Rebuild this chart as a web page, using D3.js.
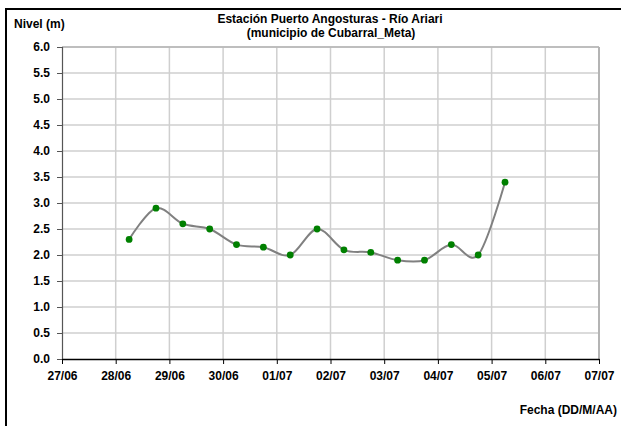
<!DOCTYPE html>
<html><head><meta charset="utf-8">
<script src="https://cdn.jsdelivr.net/npm/d3@7"></script>
<style>body{margin:0;background:#fff}svg{display:block}text{font-family:"Liberation Sans",Arial,sans-serif;font-weight:bold;fill:#000}</style>
</head><body><svg id="c" width="621" height="426"></svg>
<script>
const dates = ["2020-06-28T06:00","2020-06-28T18:00","2020-06-29T06:00","2020-06-29T18:00","2020-06-30T06:00","2020-06-30T18:00","2020-07-01T06:00","2020-07-01T18:00","2020-07-02T06:00","2020-07-02T18:00","2020-07-03T06:00","2020-07-03T18:00","2020-07-04T06:00","2020-07-04T18:00","2020-07-05T06:00"];
const levels = [2.3,2.9,2.6,2.5,2.2,2.15,2.0,2.5,2.1,2.05,1.9,1.9,2.2,2.0,3.4];
const yTicks = [0,0.5,1,1.5,2,2.5,3,3.5,4,4.5,5,5.5,6];
const xTickLabels = ["27/06","28/06","29/06","30/06","01/07","02/07","03/07","04/07","05/07","06/07","07/07"];
const titleLines = ["Estación Puerto Angosturas - Río Ariari","(municipio de Cubarral_Meta)"];

const svg = d3.select("#c");
const parse = d3.utcParse("%Y-%m-%dT%H:%M");
const tickDates = xTickLabels.map((l,i)=>d3.utcDay.offset(new Date(Date.UTC(2020,5,27)), i));
const x = d3.scaleUtc().domain([tickDates[0], tickDates[tickDates.length-1]]).range([62,599]);
const y = d3.scaleLinear().domain([0,6]).range([359,47]);
const FONT = "Liberation Sans, Arial, sans-serif";

// outer border
svg.append("rect").attr("x",6).attr("y",9).attr("width",640).attr("height",440)
  .attr("fill","none").attr("stroke","#000").attr("stroke-width",2);

// gridlines
svg.append("g").selectAll("line").data(yTicks.filter(d=>d>0)).join("line")
  .attr("x1",62).attr("x2",599).attr("y1",d=>y(d)).attr("y2",d=>y(d))
  .attr("stroke","#cfcfcf").attr("stroke-width",1.5);
svg.append("g").selectAll("line").data(tickDates.slice(1)).join("line")
  .attr("x1",d=>x(d)).attr("x2",d=>x(d)).attr("y1",y(0)).attr("y2",y(6))
  .attr("stroke","#cfcfcf").attr("stroke-width",1.5);
svg.append("line").attr("x1",599).attr("x2",599).attr("y1",y(0)).attr("y2",y(6))
  .attr("stroke","#b4b4b4").attr("stroke-width",2);
svg.append("line").attr("x1",62).attr("x2",599).attr("y1",y(6)).attr("y2",y(6))
  .attr("stroke","#b4b4b4").attr("stroke-width",1.5);

// axes
const yAxis = d3.axisLeft(y).tickValues(yTicks).tickFormat(d3.format(".1f")).tickSize(5).tickPadding(7);
const gy = svg.append("g").attr("transform","translate(62,0)").call(yAxis);
gy.select(".domain").attr("stroke","#555").attr("stroke-width",1.2);
gy.selectAll(".tick line").attr("stroke","#555");
gy.selectAll("text").style("font-size","12px").style("font-family",FONT).style("font-weight","bold").attr("fill","#000");

const xAxis = d3.axisBottom(x).tickValues(tickDates).tickFormat((d,i)=>xTickLabels[i]).tickSize(5).tickSizeOuter(0).tickPadding(7);
const gx = svg.append("g").attr("transform",`translate(0,${y(0)})`).call(xAxis);
gx.select(".domain").attr("stroke","#000").attr("stroke-width",1.5);
gx.selectAll(".tick line").attr("stroke","#000");
gx.selectAll("text").style("font-size","12px").style("font-family",FONT).style("font-weight","bold").attr("fill","#000");

// line
const pts = dates.map((d,i)=>({t:parse(d), v:levels[i]}));
const line = d3.line().x(d=>x(d.t)).y(d=>y(d.v)).curve(d3.curveCardinal.tension(0));
svg.append("path").datum(pts).attr("d",line).attr("fill","none").attr("stroke","#808080").attr("stroke-width",2);
svg.append("g").selectAll("circle").data(pts).join("circle")
  .attr("cx",d=>x(d.t)).attr("cy",d=>y(d.v)).attr("r",3.4).attr("fill","#008000");

// texts
svg.append("text").attr("x",14).attr("y",28).style("font-size","12px").text("Nivel (m)");
svg.append("text").attr("x",330).attr("y",23).attr("text-anchor","middle").style("font-size","12px").text(titleLines[0]);
svg.append("text").attr("x",331).attr("y",36.5).attr("text-anchor","middle").style("font-size","12px").text(titleLines[1]);
svg.append("text").attr("x",617).attr("y",414).attr("text-anchor","end").style("font-size","12px").text("Fecha (DD/M/AA)");
</script></body></html>
